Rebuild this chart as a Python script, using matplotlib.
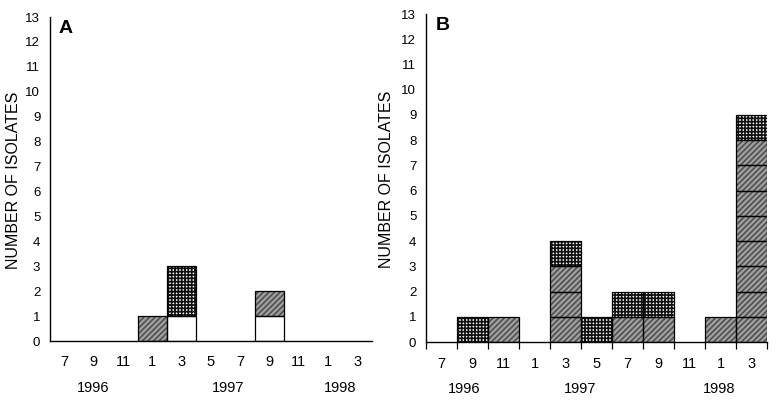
import matplotlib
matplotlib.use("Agg")
import matplotlib.pyplot as plt
import numpy as np

plt.rcParams['font.family'] = ['Liberation Sans', 'DejaVu Sans']
plt.rcParams['hatch.linewidth'] = 1.2

# bimonthly bins, Jul 1996 .. Mar 1998
months = ["7", "9", "11", "1", "3", "5", "7", "9", "11", "1", "3"]
years = ["1996", "1997", "1998"]

# counts per bin, stacked bottom->top: white, hatched, checkered
A_white = [0, 0, 0, 0, 1, 0, 0, 1, 0, 0, 0]
A_hatch = [0, 0, 0, 1, 0, 0, 0, 1, 0, 0, 0]
A_check = [0, 0, 0, 0, 2, 0, 0, 0, 0, 0, 0]

B_white = [0, 0, 0, 0, 0, 0, 0, 0, 0, 0, 0]
B_hatch = [0, 0, 1, 0, 3, 0, 1, 1, 0, 1, 8]
B_check = [0, 1, 0, 0, 1, 1, 1, 1, 0, 0, 1]

STYLES = [
    dict(face="white", hatch=None, hc="white"),
    dict(face="#a0a0a0", hatch="//////", hc="#505050"),
    dict(face="white", hatch="+++++", hc="#111111"),
]

fig = plt.figure(figsize=(7.78, 4.01), dpi=100)


def draw_panel(rect, series, letter, year_pos, ticks, label_x, letter_xy):
    ax = fig.add_axes(rect)
    x = np.arange(len(months)) + 0.5
    bottom = np.zeros(len(months))
    for vals, st in zip(series, STYLES):
        for i, v in enumerate(vals):
            for k in range(v):
                ax.bar(x[i], 1, width=1.0, bottom=bottom[i] + k,
                       color=st["face"], edgecolor=st["hc"], linewidth=0,
                       hatch=st["hatch"], zorder=2)
                ax.bar(x[i], 1, width=1.0, bottom=bottom[i] + k,
                       fill=False, edgecolor="black", linewidth=0.9, zorder=3)
        bottom += np.array(vals)
    ax.set_xlim(0, len(months))
    ax.set_ylim(0, 13)
    for s in ["top", "right"]:
        ax.spines[s].set_visible(False)
    for s in ["left", "bottom"]:
        ax.spines[s].set_linewidth(1.0)
        ax.spines[s].set_zorder(4)
    ax.set_yticks(range(0, 14))
    ax.tick_params(axis="y", length=0, pad=7, labelsize=9.5)
    if ticks:
        ax.set_xticks(np.arange(0, len(months) + 1))
        ax.tick_params(axis="x", length=5, width=0.9, direction="out", labelbottom=False)
    else:
        ax.set_xticks([])
    for i, m in enumerate(months):
        ax.text(x[i], -0.85, m, ha="center", va="center", fontsize=10.5,
                clip_on=False)
    for yp, yl in zip(year_pos, years):
        ax.text(yp, -1.88, yl, ha="center", va="center", fontsize=10.5,
                clip_on=False)
    ax.set_ylabel("NUMBER OF ISOLATES", fontsize=11.5)
    ax.yaxis.set_label_coords(label_x, 0.497)
    ax.text(letter_xy[0], letter_xy[1], letter, fontsize=14, fontweight="bold",
            ha="left", va="center")
    return ax


axA = draw_panel([0.0643, 0.1496, 0.4137, 0.808],
                 [A_white, A_hatch, A_check], "A",
                 [1.47, 6.07, 9.9], False, -0.09, (0.28, 12.55))
axB = draw_panel([0.5476, 0.147, 0.4384, 0.818],
                 [B_white, B_hatch, B_check], "B",
                 [1.24, 4.97, 9.44], True, -0.094, (0.3, 12.55))

fig.savefig("out.png", dpi=100)
